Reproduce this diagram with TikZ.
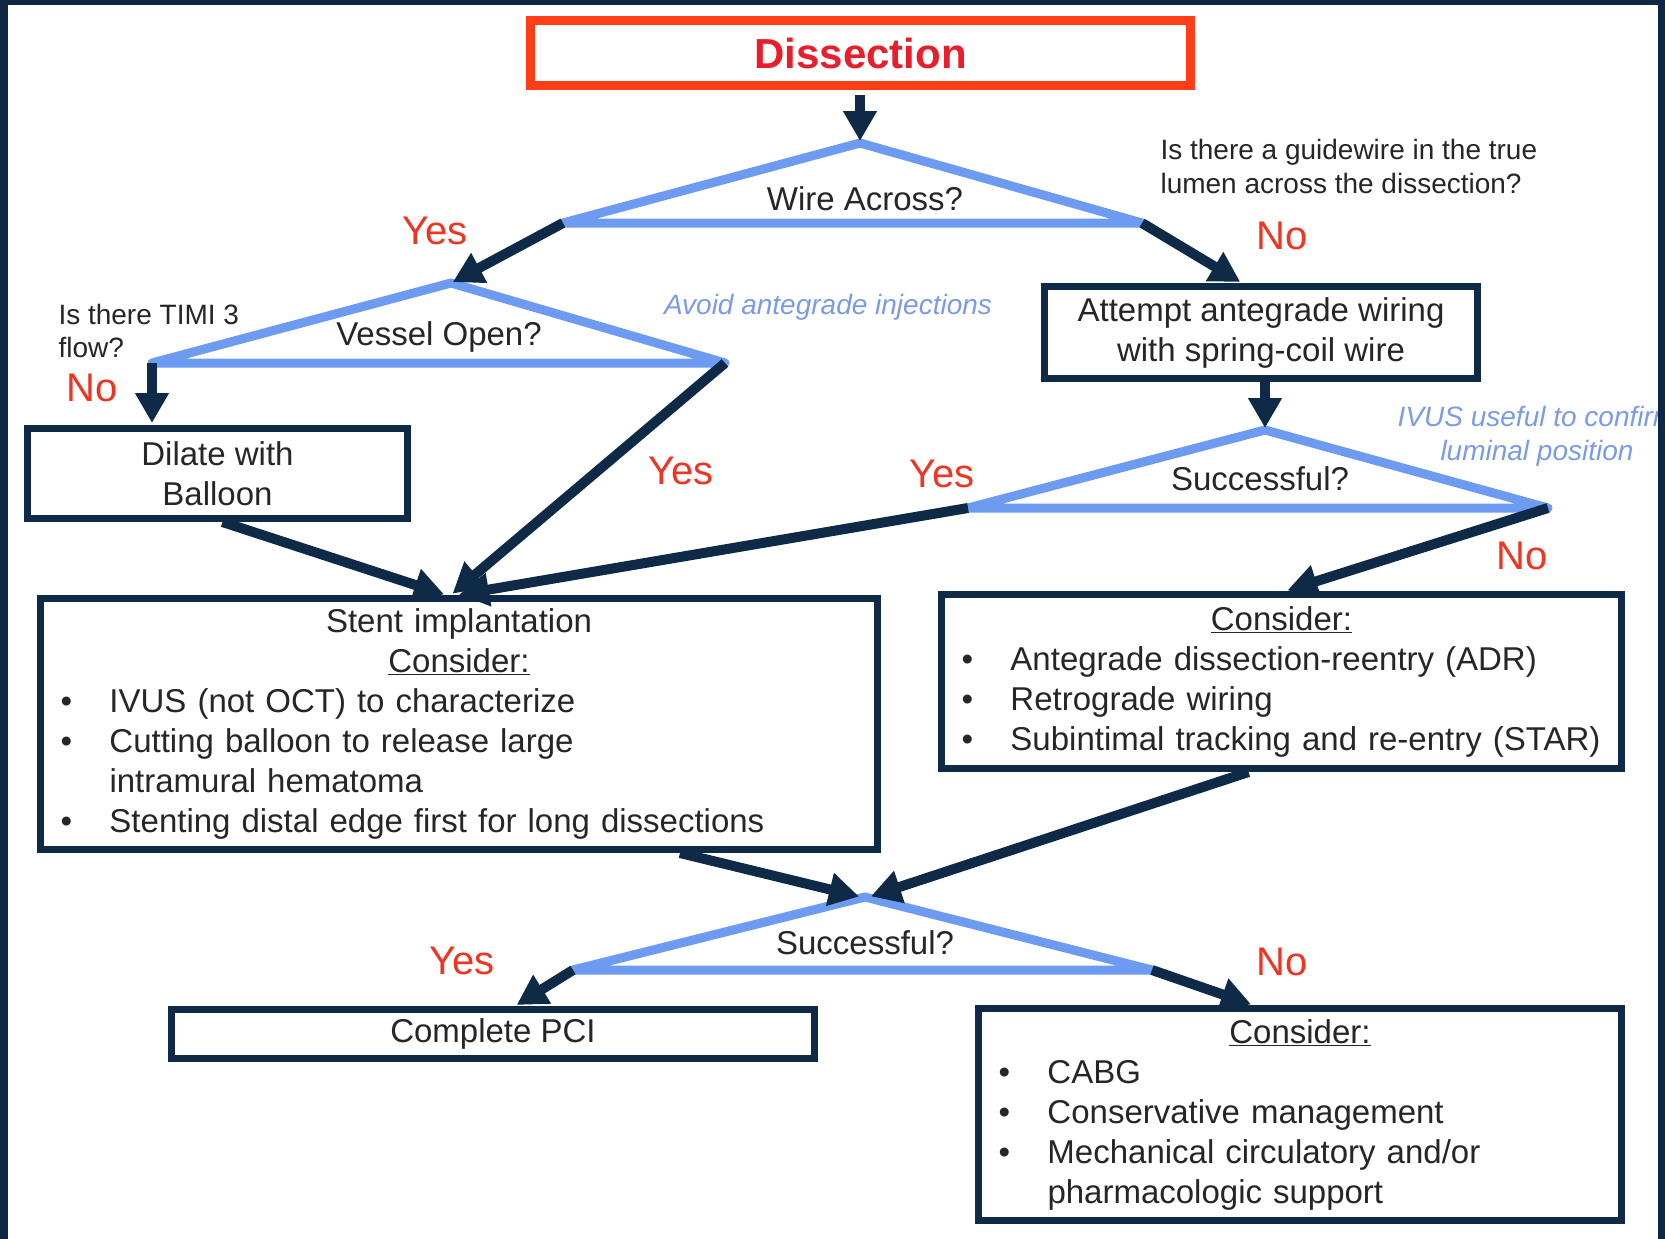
\documentclass[tikz,border=0pt]{standalone}
\usepackage{fontspec}
\setmainfont{Liberation Sans}
\usetikzlibrary{arrows.meta}

\definecolor{navy}{HTML}{0F2A47}
\definecolor{frame}{HTML}{0E2844}
\definecolor{skyline}{HTML}{6D9BF1}
\definecolor{hintblue}{HTML}{7C9BE6}
\definecolor{answer}{HTML}{EE3524}
\definecolor{alert}{HTML}{FF3D17}
\definecolor{alerttext}{HTML}{E81E2C}
\definecolor{txt}{HTML}{262626}

% bullet column for the list boxes
\newcommand{\bitem}{\makebox[49pt][l]{\textbullet}}
\newcommand{\bcont}{\hspace*{49pt}}

\begin{document}
\begin{tikzpicture}[x=1pt,y=-1pt,
    box/.style = {draw=navy, line width=7pt, text=txt, inner sep=0pt,
                  font=\fontsize{33}{40}\selectfont, align=center},
    list/.style = {draw=navy, line width=7pt, text=txt, inner xsep=20pt, inner ysep=0pt,
                  font=\fontsize{33}{40}\selectfont},
    tri/.style = {draw=skyline, line width=9pt, line join=round},
    arr/.style = {draw=navy, line width=10pt, shorten >=2pt,
                  -{Triangle[length=30pt,width=32pt]}},
    ans/.style = {text=answer, font=\fontsize{40}{48}\selectfont},
    ask/.style = {text=txt, font=\fontsize{33}{40}\selectfont},
    note/.style = {text=txt, font=\fontsize{28}{34}\selectfont, align=left},
    hint/.style = {text=hintblue, font=\fontsize{28}{34}\selectfont\itshape, align=center}]

  \useasboundingbox (0,0) rectangle (1665,1239);
  \fill[frame] (0,0) rectangle (1665,1239);
  \fill[white] (8,5) rectangle (1658,1239);

  % boxes
  \node[box, draw=alert, line width=9pt, text=alerttext, minimum width=660, minimum height=65,
        font=\bfseries\fontsize{42}{50}\selectfont] (title) at (860.5,53) {Dissection};
  \node[box, minimum width=433, minimum height=92] (attempt) at (1261,332.5)
       {Attempt antegrade wiring\\with spring-coil wire};
  \node[box, minimum width=380, minimum height=90] (dilate) at (217.5,473.5)
       {Dilate with\\Balloon};
  \node[list, minimum width=837, minimum height=251, text width=797] (stent) at (459,724)
       {\centering Stent implantation\\\underline{Consider:}\par
        \raggedright
        \bitem IVUS (not OCT) to characterize\\
        \bitem Cutting balloon to release large\\
        \bcont intramural hematoma\\
        \bitem Stenting distal edge first for long dissections\par};
  \node[list, minimum width=680, minimum height=174, text width=640] (cons1) at (1281.5,681.5)
       {\centering\underline{Consider:}\par
        \raggedright
        \bitem Antegrade dissection-reentry (ADR)\\
        \bitem Retrograde wiring\\
        \bitem Subintimal tracking and re-entry (STAR)\par};
  \node[box, minimum width=643, minimum height=49] (pci) at (493,1034) {Complete PCI};
  \node[list, minimum width=643, minimum height=212, text width=603] (cons2) at (1300,1114.5)
       {\centering\underline{Consider:}\par
        \raggedright
        \bitem CABG\\
        \bitem Conservative management\\
        \bitem Mechanical circulatory and/or\\
        \bcont pharmacologic support\par};

  % decision triangles
  \coordinate (wire-top) at (860,143);
  \coordinate (wire-l) at (563,223);
  \coordinate (wire-r) at (1142,223);
  \coordinate (vessel-top) at (451,283);
  \coordinate (vessel-l) at (152,363);
  \coordinate (vessel-r) at (725,363);
  \coordinate (succa-top) at (1265,430);
  \coordinate (succa-l) at (968,508);
  \coordinate (succa-r) at (1548,508);
  \coordinate (succb-top) at (865,897);
  \coordinate (succb-l) at (573,970);
  \coordinate (succb-r) at (1152,970);

  \draw[tri] (wire-top) -- (wire-r) -- (wire-l) -- cycle;
  \draw[tri] (vessel-top) -- (vessel-r) -- (vessel-l) -- cycle;
  \draw[tri] (succa-top) -- (succa-r) -- (succa-l) -- cycle;
  \draw[tri] (succb-top) -- (succb-r) -- (succb-l) -- cycle;

  \node[ask] (wire-q) at (865,199) {Wire Across?};
  \node[ask] (vessel-q) at (439,337) {Vessel Open?};
  \node[ask] (succa-q) at (1260,479) {Successful?};
  \node[ask] (succb-q) at (865,943) {Successful?};

  % side notes
  \node[note, anchor=west] (guide) at (1157,166)
       {Is there a guidewire in the true\\lumen across the dissection?};
  \node[note, anchor=west, font=\fontsize{28}{33}\selectfont] (timi) at (55,331)
       {Is there TIMI 3\\flow?};
  \node[hint] (avoid) at (828,307) {Avoid antegrade injections};
  \node[hint] (ivus) at (1537,436) {IVUS useful to confirm\\luminal position};

  % connectors
  \draw[arr, shorten <=5pt] (title.south -| wire-top) -- (wire-top);
  \draw[arr] (wire-l) -- (vessel-top);
  \draw[arr] (wire-r) -- ([xshift=-19pt]attempt.north);
  \draw[arr] (vessel-l) -- (vessel-l |- dilate.north);
  \draw[arr] (vessel-r) -- ([xshift=-8pt]stent.north);
  \draw[arr] ([xshift=5pt]dilate.south) -- ([xshift=-13pt]stent.north);
  \draw[arr] (attempt.south -| succa-top) -- (succa-top);
  \draw[arr] (succa-l) -- ([xshift=-2pt]stent.north);
  \draw[arr] (succa-r) -- ([xshift=4pt]cons1.north);
  \draw[arr] ([xshift=221pt]stent.south) -- ([xshift=-4pt]succb-top);
  \draw[arr] ([xshift=-33pt]cons1.south) -- ([xshift=4pt]succb-top);
  \draw[arr] (succb-l) -- ([xshift=22pt]pci.north);
  \draw[arr] (succb-r) -- ([xshift=-47pt]cons2.north);

  % yes / no labels
  \node[ans] (yes-wire) at (435,231) {Yes};
  \node[ans] (no-wire) at (1282,236) {No};
  \node[ans] (no-timi) at (92,388) {No};
  \node[ans] (yes-vessel) at (681,471) {Yes};
  \node[ans] (yes-succa) at (942,474) {Yes};
  \node[ans] (no-succa) at (1522,556) {No};
  \node[ans] (yes-succb) at (462,961) {Yes};
  \node[ans] (no-succb) at (1282,962) {No};

  % right edge of the frame over the clipped note
  \fill[frame] (1658,0) rectangle (1665,1239);
\end{tikzpicture}
\end{document}
